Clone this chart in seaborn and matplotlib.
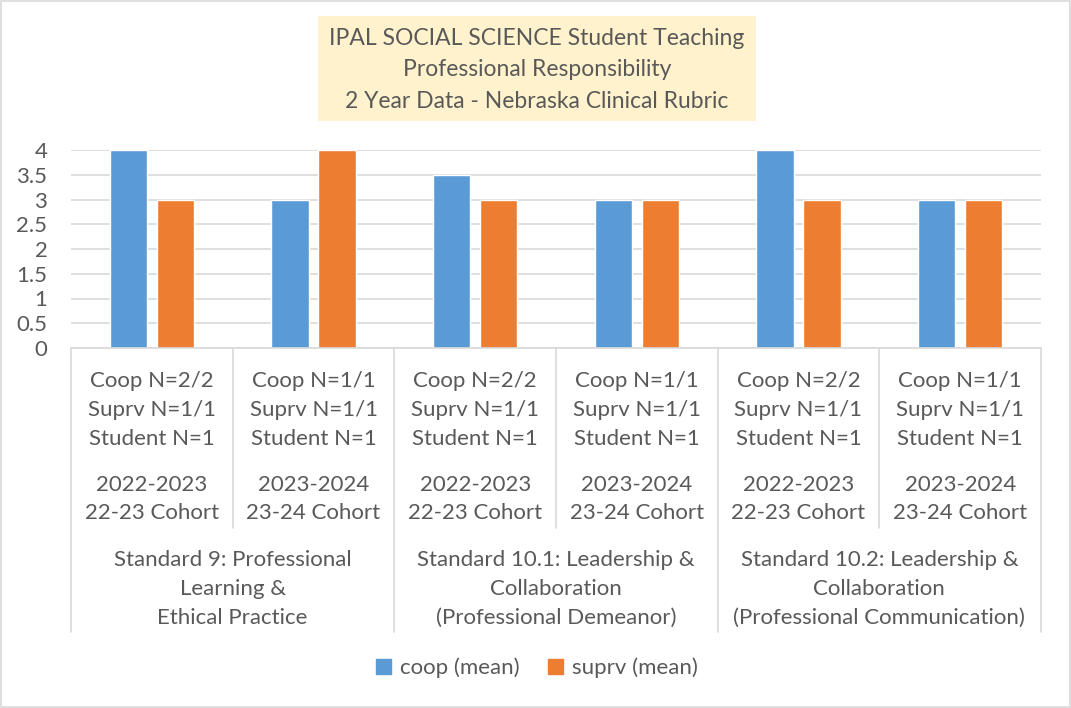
import numpy as np
import pandas as pd
import matplotlib
matplotlib.use("Agg")
import matplotlib.pyplot as plt
import matplotlib.patches as mpatches
import matplotlib.transforms as mtransforms
import seaborn as sns

# ── Data ──────────────────────────────────────────────────────────────────────
standards = [
    "Standard 9: Professional\nLearning &\nEthical Practice",
    "Standard 10.1: Leadership &\nCollaboration\n(Professional Demeanor)",
    "Standard 10.2: Leadership &\nCollaboration\n(Professional Communication)",
]
count_labels = [
    "Coop N=2/2\nSuprv N=1/1\nStudent N=1",
    "Coop N=1/1\nSuprv N=1/1\nStudent N=1",
]
cohort_labels = [
    "2022-2023\n22-23 Cohort",
    "2023-2024\n23-24 Cohort",
]
coop_mean = [4, 3, 3.5, 3, 4, 3]
suprv_mean = [3, 4, 3, 3, 3, 3]
series_names = ["coop (mean)", "suprv (mean)"]
y_ticks = [0, 0.5, 1, 1.5, 2, 2.5, 3, 3.5, 4]

TEXT = "#595959"
GRID = "#D9D9D9"
COLORS = ["#5B9BD5", "#ED7D31"]
FONT = ["Lato", "DejaVu Sans"]
FS = 16
LS = 1.55

# long table for seaborn: one unique key per x slot
n_sub = len(cohort_labels)
keys = [f"s{i}c{j}" for i in range(len(standards)) for j in range(n_sub)]
df = pd.DataFrame({
    "slot": keys * 2,
    "value": coop_mean + suprv_mean,
    "series": [series_names[0]] * len(keys) + [series_names[1]] * len(keys),
})

sns.set_style("white")
plt.rcParams["font.family"] = FONT

W, H = 1071, 708
fig = plt.figure(figsize=(W / 100, H / 100), dpi=100)
ax = fig.add_axes([71 / W, 1 - 348 / H, (1041 - 71) / W, (348 - 150) / H])

sns.barplot(data=df, x="slot", y="value", hue="series", palette=COLORS,
            width=0.58, gap=0.2, ax=ax, legend=False, saturation=1)

ax.set_ylim(0, 4)
ax.set_xlim(-0.5, len(keys) - 0.5)
ax.set_yticks(y_ticks)
ax.set_yticklabels([f"{t:g}" for t in y_ticks], fontsize=FS, color=TEXT)
ax.yaxis.grid(True, color=GRID, linewidth=1.2)
ax.set_axisbelow(True)
ax.set_xlabel("")
ax.set_ylabel("")
for side in ["top", "right", "left"]:
    ax.spines[side].set_visible(False)
ax.spines["bottom"].set_color(GRID)
ax.spines["bottom"].set_linewidth(1.2)

ax.set_xticks(range(len(keys)))
ax.set_xticklabels([""] * len(keys))
ax.tick_params(axis="x", length=0)
ax.tick_params(axis="y", length=0, pad=17)

# multi-level category labels and separators
blend = mtransforms.blended_transform_factory(ax.transData, fig.transFigure)
y_axis = 1 - 348 / H
for k in range(len(keys) + 1):
    x = k - 0.5
    y_end = 1 - (632 if k % 2 == 0 else 528) / H
    ax.plot([x, x], [y_axis, y_end], transform=blend, color=GRID,
            linewidth=1.2, clip_on=False)
for k in range(len(keys)):
    ax.text(k, 1 - 410 / H, count_labels[k % n_sub], transform=blend,
            ha="center", va="center", fontsize=FS, color=TEXT, linespacing=LS)
    ax.text(k, 1 - 499 / H, cohort_labels[k % n_sub], transform=blend,
            ha="center", va="center", fontsize=FS, color=TEXT, linespacing=LS)
for i, s in enumerate(standards):
    ax.text(n_sub * i + 0.5, 1 - 589 / H, s, transform=blend, ha="center",
            va="center", fontsize=FS, color=TEXT, linespacing=LS)

# title box
fig.patches.append(mpatches.Rectangle((318 / W, 1 - 121 / H), 438 / W, 105 / H,
                                      transform=fig.transFigure, facecolor="#FFF2CC",
                                      edgecolor="none", zorder=0))
fig.text(537 / W, 1 - 70 / H,
         "IPAL SOCIAL SCIENCE Student Teaching\nProfessional Responsibility\n2 Year Data - Nebraska Clinical Rubric",
         ha="center", va="center", fontsize=16.5, color=TEXT, linespacing=1.6)

# legend
handles = [mpatches.Patch(color=c, label=n) for c, n in zip(COLORS, series_names)]
fig.legend(handles=handles, loc="center", bbox_to_anchor=(537 / W, 1 - 668 / H),
           ncol=2, frameon=False, fontsize=FS, labelcolor=TEXT,
           handlelength=0.65, handleheight=0.65, handletextpad=0.4, columnspacing=1.3)

# outer chart border
fig.patches.append(mpatches.Rectangle((1 / W, 1 / H), 1 - 2 / W, 1 - 2 / H,
                                      transform=fig.transFigure, facecolor="none",
                                      edgecolor=GRID, linewidth=1.2))

fig.savefig("out.png", dpi=100, facecolor="white")
